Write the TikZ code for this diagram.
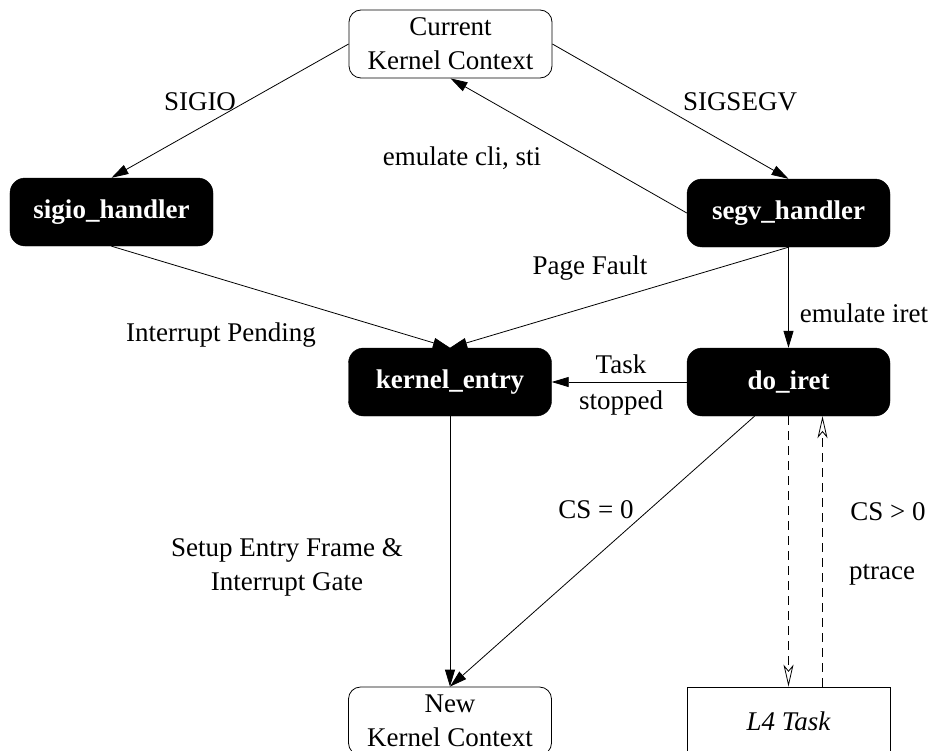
\documentclass[tikz,border=0pt]{standalone}
\usepackage{fontspec}
\setmainfont{Liberation Serif}
\usetikzlibrary{arrows.meta}
\begin{document}
\begin{tikzpicture}[x=1bp,y=-1bp,
 every node/.style={font=\fontsize{27bp}{34bp}\selectfont},
 wbox/.style={draw, line width=0.8bp, rounded corners=12bp, minimum width=203bp, minimum height=68bp, align=center, inner sep=0pt},
 bbox/.style={fill=black, draw=black, rounded corners=15bp, minimum width=203bp, minimum height=68bp, text=white, inner sep=0pt, font=\fontsize{27bp}{34bp}\selectfont\bfseries},
 sbox/.style={draw, line width=0.8bp, minimum width=203bp, minimum height=68bp, inner sep=0pt, font=\fontsize{27bp}{34bp}\selectfont\itshape},
 arr/.style={line width=0.8bp, -{Triangle[length=17bp,width=10bp]}},
 darr/.style={line width=0.8bp, dash pattern=on 9bp off 6bp, -{Stealth[open,length=22bp,width=10bp,inset=6bp]}},
 lbl/.style={align=center, inner sep=0pt}
]
\useasboundingbox (0,0) rectangle (940,751);
\node[wbox] (cur) at (450.5,44) {Current\\Kernel Context};
\node[bbox] (sigio) at (111.5,212) {sigio\_handler};
\node[bbox] (segv) at (788.5,213) {segv\_handler};
\node[bbox] (kent) at (450,382) {kernel\_entry};
\node[bbox] (iret) at (788.5,382) {do\_iret};
\node[wbox] (new) at (450,721) {New\\Kernel Context};
\node[sbox] (l4) at (788.5,721) {L4 Task};

\draw[arr] (cur.west) -- (sigio.north);
\draw[arr] (cur.east) -- (segv.north);
\draw[arr] (segv.west) -- (cur.south);
\draw[arr] (sigio.south) -- (kent.north);
\draw[arr] (segv.south) -- (kent.north);
\draw[arr] (segv.south) -- (iret.north);
\draw[arr] (iret.west) -- (kent.east);
\draw[arr] (kent.south) -- (new.north);
\draw[arr] ([xshift=-34bp]iret.south) -- (new.north);
\draw[darr] (iret.south) -- (l4.north);
\draw[darr] ([xshift=34bp]l4.north) -- ([xshift=34bp]iret.south);

\node[lbl] (t1) at (200,102) {SIGIO};
\node[lbl] (t2) at (740,102) {SIGSEGV};
\node[lbl] (t3) at (462,158) {emulate cli, sti};
\node[lbl] (t4) at (590,268) {Page Fault};
\node[lbl] (t5) at (221,335) {Interrupt Pending};
\node[lbl] (t6) at (864,313) {emulate iret};
\node[lbl, font=\fontsize{27bp}{36bp}\selectfont] (t7) at (621,385) {Task\\stopped};
\node[lbl] (t8) at (287,567) {Setup Entry Frame \&\\Interrupt Gate};
\node[lbl] (t9) at (596,510) {CS = 0};
\node[lbl] (t10) at (888,512) {CS > 0};
\node[lbl] (t11) at (882,575) {ptrace};
\end{tikzpicture}
\end{document}
